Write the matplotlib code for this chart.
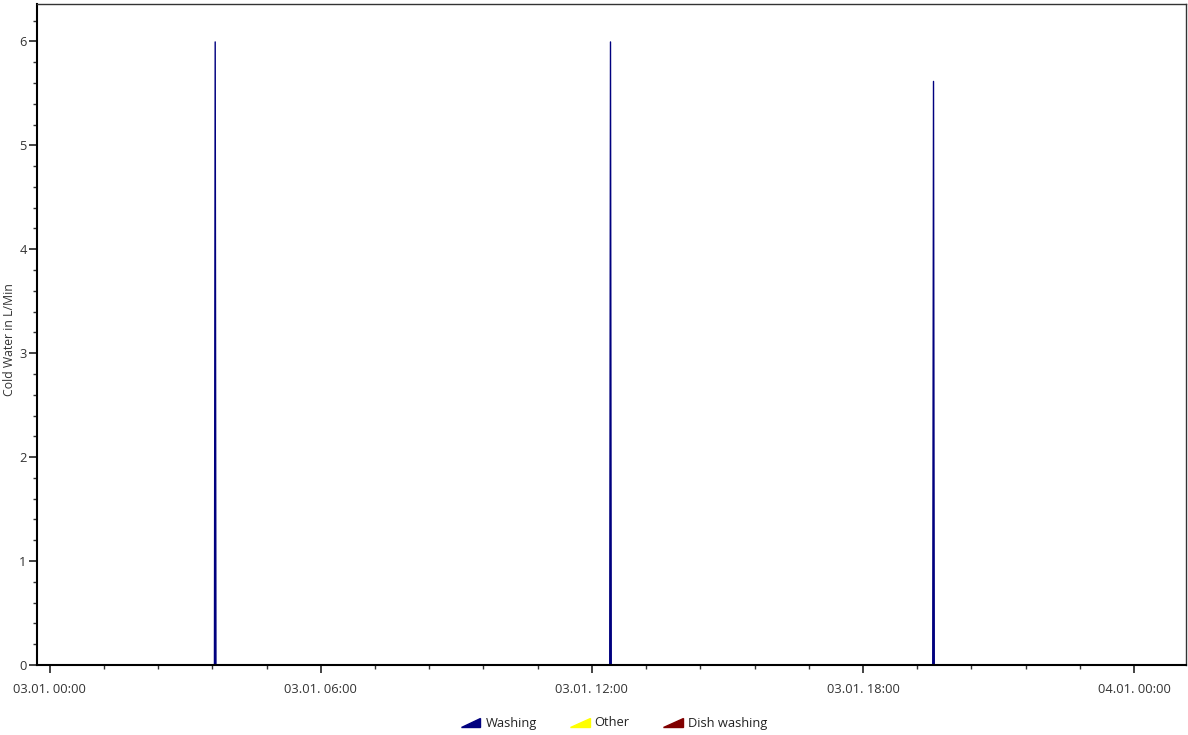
import matplotlib
matplotlib.use("Agg")
import matplotlib.pyplot as plt
import matplotlib.dates as mdates
import matplotlib.patches as mpatches
from matplotlib.legend_handler import HandlerPatch
from matplotlib.ticker import MultipleLocator
import numpy as np
import pandas as pd

plt.rcParams["font.family"] = ["Open Sans", "DejaVu Sans"]

# series sampled around the three washing events (03.01.)
times = ["03:38", "03:39", "03:40",
         "12:23", "12:24", "12:25",
         "19:32", "19:33", "19:34"]
washing = [0, 6.0, 0,
           0, 6.0, 0,
           0, 5.62, 0]
other = [0, 0, 0, 0, 0, 0, 0, 0, 0]
dish_washing = [0, 0, 0, 0, 0, 0, 0, 0, 0]

series_names = ["Washing", "Other", "Dish washing"]
series_colors = ["#00007f", "#ffff00", "#800000"]

day = "2024-01-03 "
t = pd.to_datetime([day + s for s in times])
x_start = pd.Timestamp(day + "00:00") - pd.Timedelta(minutes=17)
x_end = pd.Timestamp(day + "00:00") + pd.Timedelta(hours=25, minutes=9)

fig = plt.figure(figsize=(11.88, 7.35), dpi=100)
ax = fig.add_axes([37 / 1188, 70 / 735, 1149 / 1188, 661 / 735])

# stacked area, washing drawn last so it sits on top; spines cover the zero edge
base = np.zeros(len(t))
layers = []
for vals, c in zip([washing, other, dish_washing], series_colors):
    top = base + np.asarray(vals, dtype=float)
    layers.append((base, top, c, np.any(np.asarray(vals) > 0)))
    base = top
for z, (lo, hi, c, nonzero) in enumerate(reversed(layers)):
    ax.fill_between(t, lo, hi, color=c, edgecolor=c,
                    lw=1.0 if nonzero else 0, zorder=1 + 0.1 * z)

ax.set_xlim(x_start, x_end)
ax.set_ylim(0, 6.36)


class MinorLoc(matplotlib.ticker.Locator):
    def __call__(self):
        lo, hi = self.axis.get_view_interval()
        step = 1.2 / 24
        start = np.floor(lo / step) * step
        return np.arange(start, hi, step)


ax.xaxis.set_major_locator(mdates.HourLocator(byhour=[0, 6, 12, 18]))
ax.xaxis.set_minor_locator(MinorLoc())
ax.xaxis.set_major_formatter(mdates.DateFormatter("%d.%m. %H:%M"))
ax.yaxis.set_major_locator(MultipleLocator(1))
ax.yaxis.set_minor_locator(MultipleLocator(0.2))

ax.tick_params(axis="both", which="major", length=6, width=1.2, color="#222222",
               labelsize=9.3, labelcolor="#333333")
ax.tick_params(axis="both", which="minor", length=3, width=1.0, color="#333333")
ax.tick_params(axis="x", which="major", pad=7)
ax.tick_params(axis="y", which="major", pad=1.5)

for side in ["left", "bottom"]:
    ax.spines[side].set_linewidth(1.5)
    ax.spines[side].set_color("black")
for side in ["top", "right"]:
    ax.spines[side].set_linewidth(1.0)
    ax.spines[side].set_color("#333333")

fig.text(10 / 1188, 1 - 340 / 735, "Cold Water in L/Min", rotation=90,
         ha="center", va="center", fontsize=8.8, color="#333333")


def make_triangle(legend, orig_handle, xdescent, ydescent, width, height, fontsize):
    return mpatches.Polygon([[-xdescent, -ydescent],
                             [-xdescent + width, -ydescent],
                             [-xdescent + width, -ydescent + height * 0.9]],
                            closed=True)


handles = [mpatches.Patch(color=c, label=n) for n, c in zip(series_names, series_colors)]
fig.legend(handles=handles, loc="center", bbox_to_anchor=(614 / 1188, 1 - 723 / 735),
           ncol=3, frameon=False, fontsize=9.3, handlelength=1.5, handleheight=0.7,
           handletextpad=0.4, columnspacing=2.6,
           handler_map={mpatches.Patch: HandlerPatch(patch_func=make_triangle)},
           labelcolor="#222222")

fig.savefig("out.png", dpi=100)
